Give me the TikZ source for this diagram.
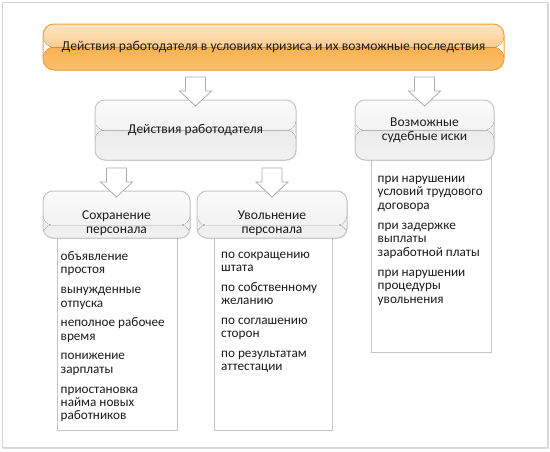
\documentclass[tikz,border=0pt]{standalone}
\usepackage{fontspec}
\setmainfont{Carlito}
\usetikzlibrary{calc,positioning,shadows,backgrounds}
\definecolor{orangeEdge}{HTML}{F5A030}
\definecolor{orangeTop}{HTML}{FEE6C8}
\definecolor{orangeMid}{HTML}{FCCB8A}
\definecolor{orangeLow}{HTML}{F8A22E}
\definecolor{orangeBot}{HTML}{FBC070}
\definecolor{greyTop}{HTML}{FBFBFB}
\definecolor{greyMid}{HTML}{F2F2F2}
\definecolor{greyLow}{HTML}{E4E4E4}
\definecolor{greyBot}{HTML}{F2F2F2}
\definecolor{greyEdge}{HTML}{C6C6C6}
\definecolor{frameEdge}{HTML}{D6D6D6}
\definecolor{frameShadow}{HTML}{DCDCDC}
\definecolor{textDark}{HTML}{1C1C1C}

\tikzset{
  titlebox/.style={draw=orangeEdge, line width=1pt, rounded corners=11pt,
    minimum width=461pt, minimum height=46pt, inner sep=0pt,
    font=\fontsize{13.6}{15}\selectfont, text=textDark,
    path picture={
      \fill[top color=orangeLow, bottom color=orangeBot]
        (path picture bounding box.west) rectangle (path picture bounding box.south east);
      \fill[top color=orangeTop, bottom color=orangeMid]
        (path picture bounding box.north west) rectangle ($(path picture bounding box.east)+(0,0.3)$);}},
  headbox/.style={draw=greyEdge, line width=1pt, rounded corners=10pt,
    inner sep=0pt, align=center, font=\fontsize{13.5}{14}\selectfont, text=textDark,
    drop shadow={opacity=.12, shadow xshift=1pt, shadow yshift=-1pt},
    path picture={
      \fill[top color=greyLow, bottom color=greyBot]
        (path picture bounding box.west) rectangle (path picture bounding box.south east);
      \fill[top color=greyTop, bottom color=greyMid]
        (path picture bounding box.north west) rectangle ($(path picture bounding box.east)+(0,0.3)$);}},
  lowhead/.style={text height=40pt,
    path picture={
      \fill[top color=greyLow, bottom color=greyBot]
        ($(path picture bounding box.south west)!0.28!(path picture bounding box.north west)$)
        rectangle (path picture bounding box.south east);
      \fill[top color=greyTop, bottom color=greyMid]
        (path picture bounding box.north west) rectangle
        ($(path picture bounding box.south east)!0.28!(path picture bounding box.north east)+(0,0.3)$);}},
  listframe/.style={draw=greyEdge, line width=1pt, fill=white, inner sep=0pt,
    drop shadow={opacity=.12, shadow xshift=1pt, shadow yshift=-1pt}},
  listtext/.style={anchor=north west, inner sep=0pt, align=left,
    font=\fontsize{13.2}{13.3}\selectfont, text=textDark},
  blockarr/.style={draw=gray!65, fill=white, line width=.8pt, line join=miter},
}

% hollow block arrow pointing down onto a node
\newcommand\blockdown[1]{%
  \draw[blockarr] ($(#1.north)+(-10,-22.5)$) -- ++(20,0) -- ++(0,14) -- ++(6,0)
    -- ($(#1.north)+(0,6.5)$) -- ($(#1.north)+(-16,-8.5)$) -- ++(6,0) -- cycle;}

\begin{document}
\begin{tikzpicture}[x=1pt,y=-1pt]
  \useasboundingbox (0,0) rectangle (550,451);
  % outer frame
  \draw[frameEdge, line width=1pt] (2,2) rectangle (547,447);
  \draw[frameShadow, line width=1.5pt] (3,448.5) -- (548.5,448.5) -- (548.5,3);

  % headers
  \node[titlebox] (title) at (273.5,47) {Действия работодателя в условиях кризиса и их возможные последствия};
  \node[headbox, minimum width=201pt, minimum height=60pt] (employer) at (195.5,130) {Действия работодателя};
  \node[headbox, minimum width=139pt, minimum height=60pt] (suits) at (424.5,130) {Возможные\\судебные иски};
  \node[headbox, lowhead, minimum width=147pt, minimum height=47pt] (keep) at (116.5,214.5) {Сохранение\\персонала};
  \node[headbox, lowhead, minimum width=150pt, minimum height=47pt] (dismiss) at (272,214.5) {Увольнение\\персонала};

  % list frames behind the headers
  \begin{scope}[on background layer]
    \node[listframe, minimum width=120pt, minimum height=199pt, anchor=north] (keepframe) at ($(keep.south)+(0.5,-8)$) {};
    \node[listframe, minimum width=118pt, minimum height=199pt, anchor=north] (dismissframe) at ($(dismiss.south)+(1,-8)$) {};
    \node[listframe, minimum width=120pt, minimum height=199pt, anchor=north] (suitsframe) at ($(suits.south)+(6.5,-8)$) {};
  \end{scope}

  % list texts
  \node[listtext] (keeptext) at ($(keepframe.north west)+(4,21)$)
    {объявление\\простоя\\[6.5pt]вынужденные\\отпуска\\[6.5pt]неполное рабочее\\время\\[6.5pt]понижение\\зарплаты\\[6.5pt]приостановка\\найма новых\\работников};
  \node[listtext] (dismisstext) at ($(dismissframe.north west)+(7.5,21)$)
    {по сокращению\\штата\\[6.5pt]по собственному\\желанию\\[6.5pt]по соглашению\\сторон\\[6.5pt]по результатам\\аттестации};
  \node[listtext] (suitstext) at ($(suitsframe.north west)+(7,23.5)$)
    {при нарушении\\условий трудового\\договора\\[7pt]при задержке\\выплаты\\заработной платы\\[7pt]при нарушении\\процедуры\\увольнения};

  % arrows
  \blockdown{employer}
  \blockdown{suits}
  \blockdown{keep}
  \blockdown{dismiss}
\end{tikzpicture}
\end{document}
